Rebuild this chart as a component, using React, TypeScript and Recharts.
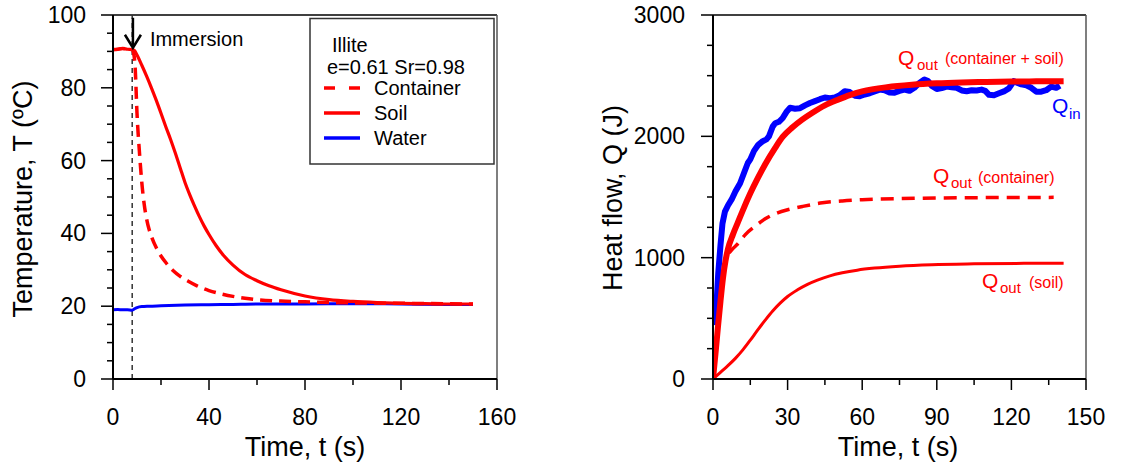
import { LineChart, Line, XAxis, YAxis, ReferenceLine, ReferenceDot } from 'recharts'

const FONT = 'Arial, "Liberation Sans", Helvetica, sans-serif'
const RED = '#ff0000'
const BLUE = '#0000ff'

// --- temperature histories, illite e=0.61 Sr=0.98 (time in s, T in °C)
const soilTime = [0, 2, 4, 6, 8, 9, 10, 12, 14, 16, 18, 20, 22, 24, 26, 28, 30, 32, 34, 36, 38, 40, 43, 46, 50, 55, 60, 65, 70, 80, 90, 100, 110, 120, 130, 140, 150]
const soilTemp = [90.5, 90.6, 90.8, 90.6, 90.5, 90.2, 89.0, 86.2, 83.2, 80.0, 76.6, 73.0, 69.3, 65.8, 62.0, 58.0, 54.0, 50.6, 47.5, 44.6, 42.0, 39.7, 36.6, 34.0, 31.3, 28.7, 27.0, 25.6, 24.5, 22.8, 21.8, 21.3, 21.0, 20.8, 20.7, 20.6, 20.6]

const containerTime = [0, 2, 4, 6, 8, 8.6, 9.2, 10, 11, 12, 13, 14, 15, 16, 18, 20, 22, 25, 28, 31, 35, 40, 45, 50, 55, 60, 70, 80, 90, 100, 120, 150]
const containerTemp = [90.5, 90.6, 90.8, 90.6, 90.5, 89.5, 86, 73, 62.5, 54, 48, 44, 41.2, 39.2, 36.1, 33.8, 32.0, 29.8, 28.2, 27.0, 25.6, 24.3, 23.4, 22.7, 22.2, 21.8, 21.4, 21.2, 21.0, 20.9, 20.8, 20.6]

const waterTime = [0, 2, 4, 6, 8, 9, 10, 12, 15, 20, 30, 40, 50, 60, 80, 100, 120, 140, 150]
const waterTemp = [19.0, 19.1, 19.0, 19.0, 18.9, 19.3, 19.6, 19.9, 20.0, 20.1, 20.3, 20.4, 20.5, 20.6, 20.6, 20.7, 20.6, 20.5, 20.5]

const immersionTime = 8

// --- heat flow (time in s, Q in J)
const qinTime = [0.5, 1.5, 2.1, 3, 3.8, 4.8, 6, 7.5, 9, 10.9, 12.5, 14, 15, 16.5, 18.2, 20, 21.5, 22.5, 24, 25, 26.5, 28, 29.5, 31, 33, 35, 37, 39, 41, 43, 45, 47, 49, 51, 53, 55, 57, 59, 61, 63, 65, 67, 69, 71, 73, 75, 77, 79, 81, 83, 85, 86.5, 88, 90, 92, 94, 96, 98, 100, 102, 104, 106, 108, 109.5, 111, 113, 115, 117, 119, 121, 122.5, 124, 126, 128, 130, 132, 134, 136, 138, 139.5]
const qinHeat = [445, 650, 870, 1100, 1280, 1380, 1430, 1480, 1545, 1613, 1700, 1780, 1810, 1880, 1930, 1960, 1975, 2000, 2080, 2108, 2120, 2150, 2200, 2235, 2228, 2232, 2255, 2275, 2290, 2306, 2320, 2315, 2320, 2340, 2372, 2365, 2335, 2330, 2345, 2355, 2370, 2385, 2380, 2362, 2360, 2375, 2385, 2375, 2400, 2440, 2468, 2455, 2415, 2390, 2398, 2410, 2405, 2400, 2378, 2372, 2380, 2378, 2385, 2375, 2342, 2338, 2355, 2370, 2395, 2455, 2440, 2428, 2420, 2400, 2368, 2368, 2380, 2410, 2400, 2418]

const totalTime = [0, 1, 2, 3, 4, 5, 6, 8, 10, 12, 15, 18, 21, 25, 28, 32, 36, 40, 45, 50, 55, 60, 70, 80, 90, 100, 110, 120, 130, 141]
const totalHeat = [0, 210, 430, 640, 830, 970, 1070, 1190, 1290, 1390, 1530, 1655, 1770, 1905, 1995, 2075, 2140, 2195, 2255, 2300, 2340, 2370, 2405, 2425, 2437, 2444, 2448, 2451, 2453, 2455]

const contHeatTime = [6.5, 8, 10, 13, 17, 21, 26, 30, 36, 44, 52, 60, 75, 90, 110, 137]
const contHeat = [1040, 1075, 1115, 1190, 1260, 1320, 1370, 1395, 1422, 1452, 1468, 1478, 1487, 1492, 1495, 1497]

const soilHeatTime = [0, 3, 6, 9, 12, 15, 18, 21, 24, 27, 30, 34, 38, 42, 47, 52, 58, 65, 75, 88, 105, 125, 141]
const soilHeat = [0, 55, 110, 170, 240, 320, 405, 485, 560, 625, 680, 735, 780, 815, 850, 875, 897, 914, 930, 942, 949, 953, 955]

// --- axis ticks (majors get labels, the rest are minor marks)
const tempXTicks = [0, 20, 40, 60, 80, 100, 120, 140, 160]
const tempYTicks = [0, 5, 10, 15, 20, 25, 30, 35, 40, 45, 50, 55, 60, 65, 70, 75, 80, 85, 90, 95, 100]
const heatXTicks = [0, 15, 30, 45, 60, 75, 90, 105, 120, 135, 150]
const heatYTicks = [0, 250, 500, 750, 1000, 1250, 1500, 1750, 2000, 2250, 2500, 2750, 3000]

const rows = (ts: number[], vs: number[]) => ts.map((t, i) => ({ t, v: vs[i] }))

const isMajor = (v: number, step: number) => Math.abs(v / step - Math.round(v / step)) < 1e-6

function xTick(step: number) {
  return (props: any) => {
    const { x, y, payload } = props
    const major = isMajor(payload.value, step)
    return (
      <g>
        <line x1={x} x2={x} y1={y} y2={y + (major ? 11 : 6)} stroke="#000" strokeWidth={1.5} />
        {major && (
          <text x={x} y={y + 46} textAnchor="middle" fontSize={23} fontFamily={FONT} fill="#000">
            {payload.value}
          </text>
        )}
      </g>
    )
  }
}

function yTick(step: number, gap: number) {
  return (props: any) => {
    const { x, y, payload } = props
    const major = isMajor(payload.value, step)
    return (
      <g>
        <line x1={x - (major ? 12 : 6)} x2={x} y1={y} y2={y} stroke="#000" strokeWidth={1.5} />
        {major && (
          <text x={x - gap} y={y + 8} textAnchor="end" fontSize={23} fontFamily={FONT} fill="#000">
            {payload.value}
          </text>
        )}
      </g>
    )
  }
}

function ImmersionArrow(props: any) {
  const { cx, cy } = props
  return (
    <g>
      <line x1={cx} x2={cx} y1={cy - 30} y2={cy - 1} stroke="#000" strokeWidth={2.5} />
      <polyline points={`${cx - 8},${cy - 13} ${cx},${cy} ${cx + 8},${cy - 13}`} fill="none" stroke="#000" strokeWidth={2.5} />
      <text x={cx + 17} y={cy - 1.5} fontSize={20} fontFamily={FONT} fill="#000">Immersion</text>
    </g>
  )
}

function TemperatureChart() {
  return (
    <LineChart width={560} height={468} margin={{ top: 15, right: 63, bottom: 0, left: 0 }}>
      <XAxis
        dataKey="t"
        type="number"
        domain={[0, 160]}
        ticks={tempXTicks}
        interval={0}
        height={89}
        tickSize={0}
        tickMargin={0}
        tick={xTick(40)}
        axisLine={{ stroke: '#000', strokeWidth: 2 }}
        allowDataOverflow
      />
      <YAxis
        type="number"
        domain={[0, 100]}
        ticks={tempYTicks}
        interval={0}
        width={113}
        tickSize={0}
        tickMargin={0}
        tick={yTick(20, 27)}
        axisLine={{ stroke: '#000', strokeWidth: 2 }}
        allowDataOverflow
      />
      <ReferenceLine y={100} stroke="#000" strokeWidth={1.5} />
      <ReferenceLine x={160} stroke="#555" strokeWidth={1.5} />
      <ReferenceLine x={immersionTime} stroke="#333" strokeWidth={1.5} strokeDasharray="5 4" />
      <Line data={rows(waterTime, waterTemp)} dataKey="v" type="monotone" stroke={BLUE} strokeWidth={3} dot={false} activeDot={false} isAnimationActive={false} />
      <Line data={rows(containerTime, containerTemp)} dataKey="v" type="monotone" stroke={RED} strokeWidth={3.5} strokeDasharray="12 7" dot={false} activeDot={false} isAnimationActive={false} />
      <Line data={rows(soilTime, soilTemp)} dataKey="v" type="monotone" stroke={RED} strokeWidth={3.2} dot={false} activeDot={false} isAnimationActive={false} />
      <ReferenceDot x={immersionTime + 0.3} y={91} shape={ImmersionArrow} />
    </LineChart>
  )
}

function HeatChart() {
  return (
    <LineChart width={569} height={468} margin={{ top: 15, right: 43, bottom: 0, left: 0 }}>
      <XAxis
        dataKey="t"
        type="number"
        domain={[0, 150]}
        ticks={heatXTicks}
        interval={0}
        height={89}
        tickSize={0}
        tickMargin={0}
        tick={xTick(30)}
        axisLine={{ stroke: '#000', strokeWidth: 2 }}
        allowDataOverflow
      />
      <YAxis
        type="number"
        domain={[0, 3000]}
        ticks={heatYTicks}
        interval={0}
        width={153}
        tickSize={0}
        tickMargin={0}
        tick={yTick(1000, 28)}
        axisLine={{ stroke: '#000', strokeWidth: 2 }}
        allowDataOverflow
      />
      <ReferenceLine y={3000} stroke="#000" strokeWidth={1.5} />
      <ReferenceLine x={150} stroke="#555" strokeWidth={1.5} />
      <Line data={rows(soilHeatTime, soilHeat)} dataKey="v" type="monotone" stroke={RED} strokeWidth={3} dot={false} activeDot={false} isAnimationActive={false} />
      <Line data={rows(contHeatTime, contHeat)} dataKey="v" type="monotone" stroke={RED} strokeWidth={3.5} strokeDasharray="13 8" dot={false} activeDot={false} isAnimationActive={false} />
      <Line data={rows(qinTime, qinHeat)} dataKey="v" type="linear" stroke={BLUE} strokeWidth={6} strokeLinejoin="round" dot={false} activeDot={false} isAnimationActive={false} />
      <Line data={rows(totalTime, totalHeat)} dataKey="v" type="monotone" stroke={RED} strokeWidth={6} dot={false} activeDot={false} isAnimationActive={false} />
    </LineChart>
  )
}

// axis titles, legend box and curve labels
function Overlay() {
  const t = { fontFamily: FONT, fill: '#000' }
  return (
    <svg width={1129} height={468} style={{ position: 'absolute', left: 0, top: 0, pointerEvents: 'none' }}>
      <text transform="translate(32,199) rotate(-90)" textAnchor="middle" fontSize={27} {...t}>Temperature, T (ºC)</text>
      <text x={305} y={456} textAnchor="middle" fontSize={27} {...t}>Time, t (s)</text>
      <text transform="translate(622,198) rotate(-90)" textAnchor="middle" fontSize={27} {...t}>Heat flow, Q (J)</text>
      <text x={898} y={456} textAnchor="middle" fontSize={27} {...t}>Time, t (s)</text>

      <rect x={310} y={18.5} width={184} height={145.5} fill="#fff" stroke="#333" strokeWidth={1.5} />
      <text x={332} y={52} fontSize={20} {...t}>Illite</text>
      <text x={327} y={74} fontSize={20} {...t}>e=0.61 Sr=0.98</text>
      <line x1={324} x2={360} y1={88} y2={88} stroke={RED} strokeWidth={3.5} strokeDasharray="11 14" />
      <text x={374} y={95} fontSize={20} {...t}>Container</text>
      <line x1={324} x2={360} y1={113} y2={113} stroke={RED} strokeWidth={3.5} />
      <text x={374} y={120} fontSize={20} {...t}>Soil</text>
      <line x1={324} x2={360} y1={138} y2={138} stroke={BLUE} strokeWidth={3.5} />
      <text x={374} y={145} fontSize={20} {...t}>Water</text>

      <g fontFamily={FONT} fill={RED}>
        <text x={898} y={65} fontSize={21}>Q</text>
        <text x={917} y={70} fontSize={15}>out</text>
        <text x={945} y={64} fontSize={16}>(container + soil)</text>

        <text x={933} y={183} fontSize={21}>Q</text>
        <text x={951} y={188} fontSize={15}>out</text>
        <text x={978} y={183} fontSize={16}>(container)</text>

        <text x={982} y={288} fontSize={21}>Q</text>
        <text x={1000} y={293} fontSize={15}>out</text>
        <text x={1029} y={288} fontSize={16}>(soil)</text>
      </g>
      <g fontFamily={FONT} fill={BLUE}>
        <text x={1052} y={113} fontSize={21}>Q</text>
        <text x={1069} y={119} fontSize={15}>in</text>
      </g>
    </svg>
  )
}

export default function App() {
  return (
    <div style={{ position: 'absolute', left: 0, top: 0, width: 1129, height: 468, background: '#fff', fontFamily: FONT }}>
      <div style={{ position: 'absolute', left: 0, top: 0 }}>
        <TemperatureChart />
      </div>
      <div style={{ position: 'absolute', left: 560, top: 0 }}>
        <HeatChart />
      </div>
      <Overlay />
    </div>
  )
}
